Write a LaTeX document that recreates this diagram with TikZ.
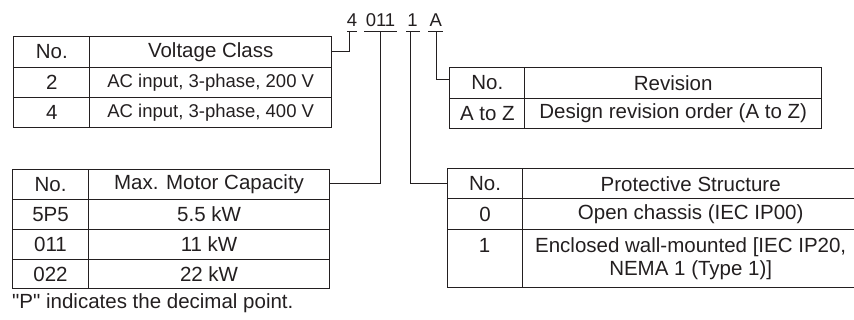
\documentclass[tikz,border=0pt]{standalone}
\usepackage{fontspec}
\setmainfont{Liberation Sans}
\newfontfamily\rawfont{Liberation Sans}
\definecolor{ink}{RGB}{35,31,32}
\tikzset{
  cell/.style={draw=ink, line width=1.1pt, inner sep=0pt, anchor=north west, text=ink,
    font=\fontsize{20.5}{23}\selectfont, align=center},
  smalltext/.style={font=\fontsize{18.5}{22}\selectfont},
  conn/.style={draw=ink, line width=1pt},
  codech/.style={text=ink, font=\fontsize{18.5}{22}\selectfont, anchor=base, inner sep=0pt},
  uline/.style={draw=ink, line width=1pt},
  plain/.style={text=ink, font=\fontsize{20.5}{23}\selectfont, inner sep=0pt},
}
\begin{document}
\begin{tikzpicture}[x=1pt,y=-1pt]
\useasboundingbox (0,0) rectangle (854,320);
\clip (0,0) rectangle (854,320);

% code characters
\node[codech] (c4) at (352,26.7) {4};
\node[codech] (c011) at (380.5,26.7) {011};
\node[codech] (c1) at (412.5,26.7) {1};
\node[codech] (cA) at (435.8,26.7) {A};
\draw[uline] (347,32) -- (357,32);
\draw[uline] (364.3,32) -- (396.7,32);
\draw[uline] (406,32) -- (420,32);
\draw[uline] (428.3,32) -- (443.3,32);

% Table 1: Voltage class
\node[cell, minimum width=76pt, minimum height=31pt] (t1a) at (13.3,35.7) {No.};
\node[cell, minimum width=241.7pt, minimum height=31pt] (t1b) at (89.3,35.7) {Voltage Class};
\node[cell, minimum width=76pt, minimum height=30pt] (t1c) at (13.3,66.7) {2};
\node[cell, smalltext, minimum width=241.7pt, minimum height=30pt] (t1d) at (89.3,66.7) {AC input, 3-phase, 200 V};
\node[cell, minimum width=76pt, minimum height=30.6pt] (t1e) at (13.3,96.7) {4};
\node[cell, smalltext, minimum width=241.7pt, minimum height=30.6pt] (t1f) at (89.3,96.7) {AC input, 3-phase, 400 V};

% Table 4: Revision
\node[cell, minimum width=75pt, minimum height=30.4pt] (t4a) at (449.3,67.3) {No.};
\node[cell, minimum width=296.7pt, minimum height=30.4pt] (t4b) at (524.3,67.3) {Revision};
\node[cell, minimum width=75pt, minimum height=30.6pt] (t4c) at (449.3,97.7) {A to Z};
\node[cell, minimum width=296.7pt, minimum height=30.6pt] (t4d) at (524.3,97.7) {Design revision order (A to Z)};

% Table 2: Max. motor capacity
\node[cell, minimum width=76pt, minimum height=30pt] (t2a) at (12,169) {No.};
\node[cell, minimum width=241pt, minimum height=30pt] (t2b) at (88,169) {Max. Motor Capacity};
\node[cell, minimum width=76pt, minimum height=30pt] (t2c) at (12,199) {5P5};
\node[cell, minimum width=241pt, minimum height=30pt] (t2d) at (88,199) {5.5 kW};
\node[cell, minimum width=76pt, minimum height=30pt] (t2e) at (12,229) {011};
\node[cell, minimum width=241pt, minimum height=30pt] (t2f) at (88,229) {11 kW};
\node[cell, minimum width=76pt, minimum height=29pt] (t2g) at (12,259) {022};
\node[cell, minimum width=241pt, minimum height=29pt] (t2h) at (88,259) {22 kW};
\node[plain, anchor=west, font=\rawfont\fontsize{20.5}{23}\selectfont] (note) at (12,303.5) {"P" indicates the decimal point.};

% Table 3: Protective structure
\node[cell, minimum width=75.6pt, minimum height=30pt] (t3a) at (446.7,168.3) {No.};
\node[cell, minimum width=335.7pt, minimum height=30pt] (t3b) at (522.3,168.3) {Protective Structure};
\node[cell, minimum width=75.6pt, minimum height=30.7pt] (t3c) at (446.7,198.3) {0};
\node[cell, minimum width=335.7pt, minimum height=30.7pt] (t3d) at (522.3,198.3) {Open chassis (IEC IP00)};
\node[cell, minimum width=75.6pt, minimum height=57.7pt] (t3e) at (446.7,229) {};
\node[plain] (t3e1) at (484.5,245.5) {1};
\node[cell, minimum width=335.7pt, minimum height=57.7pt] (t3f) at (522.3,229) {Enclosed wall-mounted [IEC IP20,\\NEMA 1 (Type 1)]};

% connectors
\coordinate (u4) at (349.3,32);
\coordinate (u011) at (380.7,32);
\coordinate (u1) at (410,32);
\coordinate (uA) at (436.7,32);
\draw[conn] (u4) |- (t1b.east);
\draw[conn] (u011) |- ([yshift=1pt]t2b.east);
\draw[conn] (u1) |- (t3a.west);
\draw[conn] (uA) |- ([yshift=3.5pt]t4a.west);
\end{tikzpicture}
\end{document}
